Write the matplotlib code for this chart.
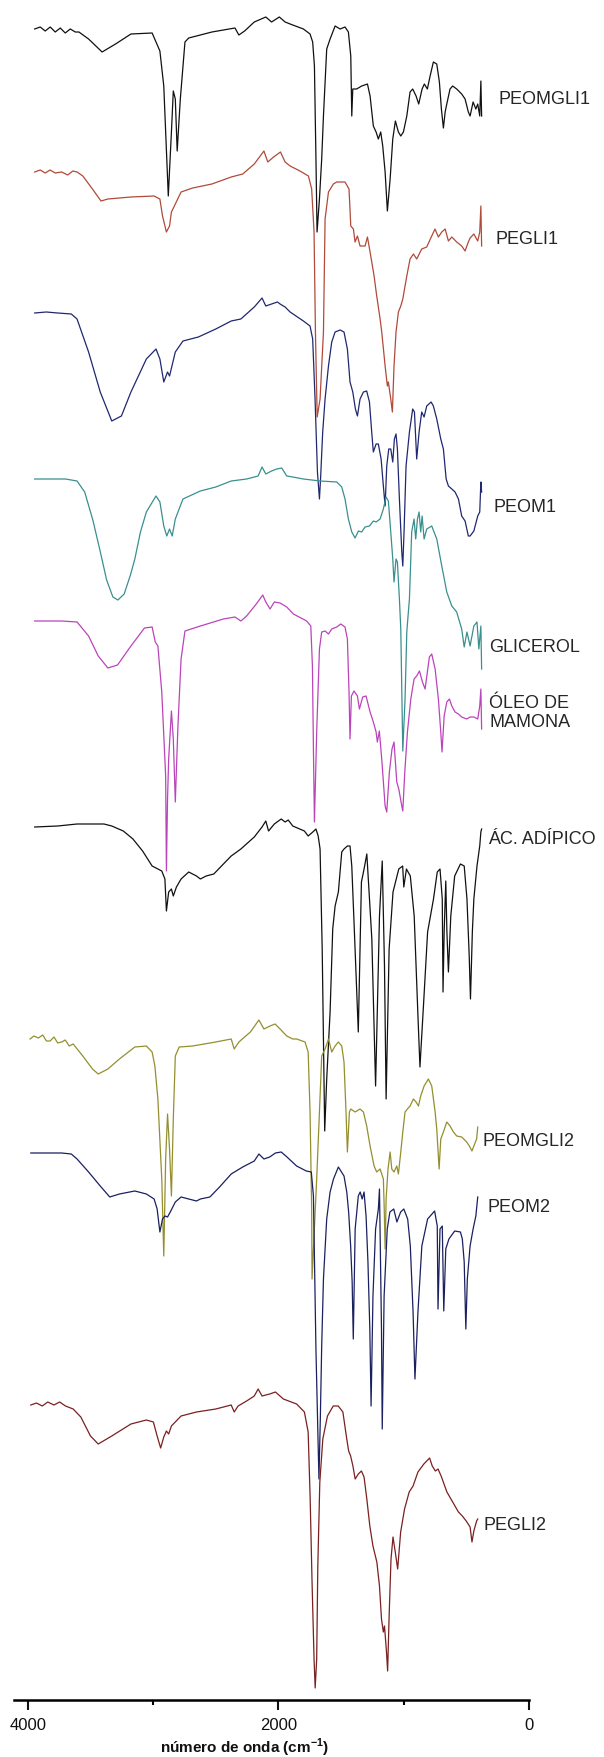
import numpy as np
import matplotlib
matplotlib.use("Agg")
import matplotlib.pyplot as plt
from matplotlib.ticker import FixedLocator

plt.rcParams['font.family'] = ['Liberation Sans', 'DejaVu Sans']
plt.rcParams['mathtext.fontset'] = 'custom'
plt.rcParams['mathtext.rm'] = 'Liberation Sans'
plt.rcParams['mathtext.bf'] = 'Liberation Sans:bold'

# FTIR spectra, stacked: wavenumber (cm-1) and offset transmittance (a.u.)
peomgli1_wn = [3944, 3900, 3860, 3820, 3780, 3740, 3700, 3660, 3620, 3591, 3514, 3406, 3299, 3176, 3007,
               2976, 2945, 2914, 2878, 2853, 2838, 2822, 2807, 2782, 2745, 2715, 2530, 2346, 2315, 2269,
               2192, 2100, 2054, 1992, 1946, 1906, 1800, 1747, 1726, 1712, 1699, 1691, 1672, 1654, 1640,
               1614, 1587, 1547, 1507, 1468, 1441, 1422, 1414, 1406, 1375, 1335, 1289, 1268, 1242, 1220,
               1202, 1183, 1167, 1148, 1130, 1108, 1087, 1066, 1042, 1023, 1002, 975, 949, 928, 901, 880,
               853, 835, 811, 789, 763, 736, 715, 699, 683, 669, 656, 630, 609, 577, 537, 510, 484, 470,
               446, 424, 409, 393, 384, 378]
peomgli1_t = [1671, 1673, 1669, 1673, 1668, 1672, 1667, 1671, 1668, 1668, 1661, 1648, 1656, 1666, 1667,
              1658, 1649, 1614, 1504, 1568, 1609, 1601, 1549, 1601, 1658, 1662, 1668, 1672, 1665, 1669,
              1678, 1683, 1678, 1683, 1678, 1676, 1671, 1666, 1658, 1634, 1534, 1468, 1501, 1541, 1584,
              1651, 1661, 1674, 1671, 1673, 1668, 1644, 1584, 1611, 1611, 1614, 1616, 1604, 1574, 1568,
              1561, 1568, 1554, 1528, 1489, 1521, 1561, 1579, 1568, 1564, 1568, 1584, 1608, 1611, 1604, 1596,
              1611, 1616, 1611, 1624, 1638, 1636, 1618, 1591, 1572, 1588, 1596, 1611, 1614, 1611, 1606, 1601,
              1588, 1584, 1598, 1591, 1596, 1584, 1619, 1584]

pegli1_wn = [3944, 3900, 3860, 3821, 3780, 3729, 3680, 3640, 3606, 3560, 3483, 3415, 3360, 3176, 2991,
             2945, 2924, 2893, 2868, 2853, 2822, 2776, 2684, 2530, 2376, 2284, 2192, 2115, 2084, 2038,
             1983, 1946, 1906, 1827, 1760, 1734, 1715, 1704, 1690, 1667, 1640, 1627, 1600, 1561, 1534,
             1468, 1436, 1422, 1401, 1388, 1369, 1348, 1308, 1289, 1268, 1236, 1215, 1188, 1175, 1148,
             1130, 1122, 1103, 1090, 1077, 1061, 1042, 1023, 1007, 975, 949, 922, 896, 856, 816, 776,
             750, 723, 696, 669, 643, 616, 577, 537, 510, 484, 470, 440, 409, 393, 384, 378]
pegli1_t = [1528, 1530, 1527, 1530, 1527, 1528, 1525, 1529, 1528, 1524, 1511, 1499, 1501, 1503, 1504,
            1501, 1484, 1468, 1474, 1488, 1496, 1508, 1512, 1516, 1523, 1526, 1536, 1549, 1538, 1543,
            1548, 1538, 1534, 1529, 1524, 1511, 1468, 1368, 1283, 1301, 1368, 1481, 1508, 1516, 1518,
            1518, 1511, 1474, 1471, 1458, 1464, 1454, 1454, 1463, 1448, 1424, 1404, 1381, 1368, 1334,
            1314, 1318, 1301, 1288, 1334, 1368, 1388, 1394, 1401, 1424, 1441, 1446, 1441, 1451, 1453, 1464,
            1471, 1463, 1468, 1471, 1459, 1463, 1458, 1454, 1449, 1458, 1462, 1466, 1459, 1468, 1494, 1454]

peom1_wn = [3944, 3852, 3760, 3652, 3606, 3514, 3421, 3329, 3252, 3176, 3053, 2976, 2945, 2914, 2884,
            2868, 2822, 2761, 2638, 2499, 2376, 2299, 2192, 2130, 2100, 2054, 2007, 1986, 1946, 1906,
            1800, 1747, 1726, 1707, 1688, 1672, 1662, 1646, 1627, 1600, 1574, 1547, 1507, 1476, 1449,
            1428, 1406, 1385, 1369, 1348, 1321, 1295, 1273, 1255, 1242, 1220, 1202, 1180, 1162, 1148,
            1135, 1119, 1103, 1087, 1074, 1061, 1050, 1034, 1015, 1007, 997, 981, 954, 928, 914, 896,
            877, 856, 837, 816, 781, 763, 736, 704, 683, 661, 643, 616, 590, 563, 537, 510, 484, 470,
            440, 409, 393, 384, 378]
peom1_t = [1387, 1388, 1387, 1386, 1381, 1348, 1308, 1279, 1284, 1308, 1341, 1351, 1341, 1318, 1328,
           1324, 1348, 1359, 1363, 1371, 1379, 1381, 1393, 1402, 1394, 1396, 1398, 1396, 1393, 1388,
           1379, 1374, 1361, 1301, 1228, 1201, 1224, 1268, 1301, 1334, 1358, 1368, 1370, 1368, 1351,
           1318, 1308, 1291, 1284, 1301, 1308, 1309, 1298, 1268, 1248, 1256, 1256, 1241, 1214, 1194,
           1234, 1251, 1251, 1238, 1261, 1266, 1251, 1201, 1148, 1134, 1168, 1234, 1268, 1291, 1288, 1241,
           1268, 1288, 1283, 1294, 1298, 1294, 1281, 1261, 1251, 1221, 1214, 1211, 1208, 1201, 1184, 1179,
           1164, 1164, 1169, 1184, 1188, 1218, 1208]

glicerol_wn = [3944, 3698, 3606, 3545, 3480, 3420, 3370, 3320, 3280, 3230, 3180, 3145, 3100, 3053, 2976,
               2945, 2914, 2890, 2868, 2847, 2822, 2761, 2622, 2499, 2376, 2253, 2161, 2130, 2100, 2054,
               2013, 1973, 1933, 1885, 1800, 1667, 1534, 1494, 1468, 1441, 1414, 1388, 1361, 1335, 1308,
               1273, 1242, 1220, 1188, 1162, 1141, 1122, 1103, 1087, 1077, 1061, 1050, 1034, 1023, 1007,
               989, 975, 967, 954, 936, 917, 904, 890, 877, 864, 853, 837, 816, 776, 736, 696, 656, 616,
               577, 537, 517, 495, 470, 440, 415, 400, 384, 378]
glicerol_t = [1221, 1221, 1219, 1208, 1180, 1148, 1120, 1103, 1100, 1106, 1125, 1141, 1168, 1188, 1204,
              1198, 1174, 1164, 1171, 1164, 1181, 1201, 1209, 1213, 1219, 1221, 1224, 1233, 1226, 1229,
              1231, 1232, 1224, 1223, 1221, 1219, 1218, 1213, 1201, 1181, 1168, 1162, 1169, 1168, 1173,
              1174, 1179, 1178, 1181, 1191, 1203, 1199, 1168, 1141, 1118, 1141, 1138, 1101, 1071, 949,
              1001, 1068, 1081, 1101, 1168, 1181, 1161, 1181, 1188, 1168, 1184, 1161, 1171, 1174, 1161, 1134,
              1108, 1094, 1088, 1071, 1053, 1068, 1054, 1074, 1078, 1051, 1074, 1031]

oleo_wn = [3944, 3729, 3606, 3514, 3437, 3360, 3283, 3176, 3068, 3007, 2982, 2961, 2930, 2899, 2893,
           2884, 2875, 2853, 2838, 2822, 2801, 2776, 2745, 2622, 2438, 2346, 2299, 2253, 2176, 2124,
           2100, 2066, 2032, 1986, 1946, 1933, 1880, 1774, 1741, 1728, 1720, 1712, 1694, 1672, 1654,
           1627, 1600, 1574, 1534, 1502, 1468, 1449, 1436, 1428, 1417, 1396, 1369, 1353, 1327, 1300,
           1268, 1242, 1220, 1210, 1194, 1175, 1148, 1135, 1114, 1093, 1077, 1055, 1039, 1015, 1007,
           991, 970, 943, 917, 896, 874, 850, 829, 811, 795, 776, 749, 723, 704, 694, 677, 656, 635,
           616, 590, 563, 537, 497, 470, 440, 409, 393, 384, 378]
oleo_t = [1079, 1079, 1078, 1064, 1044, 1032, 1035, 1054, 1072, 1073, 1058, 1054, 1008, 924, 829,
          901, 941, 989, 961, 898, 974, 1041, 1069, 1074, 1081, 1083, 1079, 1084, 1096, 1105,
          1098, 1091, 1098, 1097, 1094, 1093, 1086, 1079, 1074, 1034, 951, 878, 968, 1051, 1068,
          1069, 1066, 1071, 1073, 1076, 1073, 1061, 1008, 961, 1004, 1009, 1004, 991, 1003, 1004,
          988, 978, 968, 958, 969, 941, 894, 888, 928, 951, 958, 918, 911, 894, 889,
          928, 968, 1001, 1021, 1024, 1029, 1018, 1011, 1028, 1043, 1046, 1031, 1001, 968, 948, 984, 998, 1001,
          994, 988, 986, 983, 981, 983, 983, 981, 994, 1011, 971]

adipico_wn = [3944, 3760, 3606, 3391, 3329, 3237, 3160, 3083, 3007, 2930, 2905, 2893, 2875, 2853, 2838,
              2813, 2776, 2715, 2653, 2622, 2576, 2515, 2438, 2376, 2299, 2192, 2130, 2100, 2078, 2032,
              1977, 1946, 1921, 1885, 1792, 1762, 1725, 1700, 1682, 1667, 1650, 1630, 1614, 1587, 1566,
              1547, 1521, 1494, 1476, 1449, 1428, 1414, 1393, 1362, 1337, 1316, 1294, 1276, 1254, 1224,
              1193, 1171, 1153, 1140, 1116, 1085, 1039, 1008, 999, 978, 947, 916, 886, 870, 839, 809,
              762, 732, 710, 692, 686, 677, 664, 655, 643, 624, 593, 547, 517, 495, 477, 467, 452, 440,
              415, 393, 384, 378]
adipico_t = [873, 874, 876, 876, 874, 869, 861, 849, 834, 829, 821, 789, 808, 811, 804,
             813, 821, 828, 824, 821, 824, 826, 836, 844, 851, 863, 873, 879, 869, 876,
             881, 878, 880, 874, 869, 864, 868, 871, 864, 851, 751, 569, 621, 688, 771,
             794, 808, 848, 851, 854, 854, 834, 768, 668, 818, 831, 846, 808, 761, 614,
             784, 839, 734, 601, 751, 808, 831, 834, 813, 831, 824, 784, 684, 633, 701, 768,
             801, 828, 831, 801, 708, 768, 819, 768, 728, 784, 824, 836, 834, 801, 744, 701, 768, 801,
             834, 854, 868, 871]

peomgli2_wn = [3981, 3950, 3914, 3880, 3850, 3821, 3790, 3760, 3729, 3700, 3668, 3637, 3560, 3483, 3437,
               3360, 3268, 3145, 3053, 3007, 2985, 2961, 2930, 2914, 2899, 2884, 2868, 2853, 2838, 2822,
               2791, 2684, 2499, 2376, 2352, 2315, 2223, 2155, 2115, 2066, 2026, 1986, 1933, 1885, 1853,
               1787, 1762, 1747, 1734, 1731, 1720, 1694, 1672, 1654, 1627, 1600, 1574, 1547, 1521, 1494,
               1476, 1460, 1449, 1433, 1422, 1388, 1348, 1321, 1295, 1268, 1236, 1215, 1188, 1162, 1155,
               1148, 1140, 1125, 1108, 1095, 1077, 1055, 1042, 1023, 1007, 989, 970, 949, 922, 901, 882,
               864, 837, 803, 776, 749, 736, 728, 717, 704, 683, 656, 630, 603, 577, 537, 497, 476, 455,
               440, 418, 409]
peomgli2_t = [661, 664, 662, 665, 659, 659, 663, 657, 658, 660, 654, 656, 644, 631, 626,
              631, 641, 653, 654, 648, 634, 601, 521, 444, 541, 586, 551, 504, 581, 644,
              653, 654, 658, 661, 651, 658, 668, 680, 671, 674, 676, 671, 664, 661, 661,
              658, 648, 588, 491, 421, 451, 521, 588, 644, 651, 661, 648, 654, 658, 654,
              638, 588, 548, 588, 591, 588, 591, 588, 574, 554, 534, 528, 531, 521, 491,
              451, 501, 531, 548, 531, 528, 534, 526, 548, 568, 588, 591, 594, 601, 598, 594,
              604, 614, 621, 614, 588, 571, 554, 531, 561, 568, 578, 574, 568, 564, 563, 558, 554, 549,
              554, 561, 573]

peom2_wn = [3975, 3852, 3729, 3652, 3606, 3514, 3421, 3345, 3268, 3145, 3053, 2991, 2967, 2945, 2924,
            2905, 2884, 2862, 2822, 2776, 2715, 2653, 2622, 2546, 2469, 2376, 2284, 2192, 2155, 2115,
            2069, 2023, 1977, 1931, 1854, 1777, 1737, 1720, 1700, 1676, 1665, 1654, 1640, 1614, 1587,
            1560, 1521, 1476, 1454, 1439, 1423, 1411, 1402, 1387, 1362, 1347, 1331, 1316, 1300, 1285,
            1270, 1260, 1245, 1224, 1202, 1193, 1177, 1171, 1156, 1131, 1110, 1079, 1054, 1024, 999,
            968, 947, 925, 910, 886, 855, 809, 753, 732, 726, 710, 692, 680, 664, 639, 593, 547, 532,
            517, 504, 492, 470, 446, 424, 409]
peom2_t = [547, 547, 547, 546, 541, 528, 514, 503, 506, 509, 506, 501, 491, 468, 481,
           484, 483, 488, 498, 503, 501, 499, 501, 503, 513, 526, 533, 539, 546, 541,
           543, 547, 548, 543, 534, 529, 528, 504, 351, 221, 281, 354, 421, 481, 508,
           521, 533, 524, 508, 488, 454, 418, 361, 471, 504, 508, 501, 508, 484, 438,
           371, 294, 404, 471, 491, 511, 371, 271, 404, 471, 488, 491, 478, 488, 491,
           481, 454, 388, 321, 388, 454, 481, 489, 474, 391, 471, 474, 389, 451, 461, 469, 468, 461,
           438, 371, 421, 454, 471, 484, 503]

pegli2_wn = [3975, 3930, 3883, 3840, 3790, 3745, 3698, 3637, 3576, 3499, 3437, 3329, 3176, 3053, 2997,
             2967, 2939, 2914, 2893, 2875, 2853, 2776, 2653, 2499, 2376, 2352, 2321, 2253, 2192, 2161,
             2130, 2069, 2023, 1960, 1854, 1792, 1762, 1746, 1731, 1715, 1706, 1694, 1685, 1669, 1645,
             1608, 1562, 1522, 1485, 1454, 1439, 1423, 1405, 1387, 1362, 1337, 1316, 1294, 1270, 1245,
             1214, 1193, 1177, 1162, 1153, 1137, 1128, 1116, 1101, 1085, 1067, 1048, 1024, 993, 956,
             925, 886, 839, 793, 772, 747, 726, 701, 655, 609, 563, 532, 501, 470, 455, 440, 418, 409]
pegli2_t = [295, 297, 294, 298, 295, 298, 294, 291, 283, 264, 256, 264, 276, 280, 278,
            264, 252, 263, 269, 266, 274, 284, 288, 291, 295, 288, 294, 299, 304, 311,
            304, 306, 308, 301, 296, 288, 268, 201, 118, 41, 12, 41, 134, 218, 261,
            284, 294, 294, 288, 261, 249, 244, 234, 221, 226, 229, 223, 201, 174, 154,
            138, 114, 81, 68, 74, 48, 29, 84, 141, 163, 148, 131, 168, 191, 208,
            214, 228, 236, 242, 234, 229, 231, 224, 208, 198, 188, 184, 179, 173, 158, 169, 179, 181]

sample_names = ['PEOMGLI1', 'PEGLI1', 'PEOM1', 'GLICEROL', 'ÓLEO DE\nMAMONA', 'ÁC. ADÍPICO',
                'PEOMGLI2', 'PEOM2', 'PEGLI2']
spectra_wn = [peomgli1_wn, pegli1_wn, peom1_wn, glicerol_wn, oleo_wn, adipico_wn,
              peomgli2_wn, peom2_wn, pegli2_wn]
spectra_t = [peomgli1_t, pegli1_t, peom1_t, glicerol_t, oleo_t, adipico_t,
             peomgli2_t, peom2_t, pegli2_t]
line_colors = ['#111111', '#b04a3a', '#1f2870', '#3a8f8f', '#bb44bb', '#111111',
               '#948f2e', '#1a2060', '#7a2020']
# label anchor: wavenumber and offset transmittance
label_wn = [240, 271, 287, 318, 318, 326, 374, 334, 362]
label_t = [1601, 1462, 1194, 1054, 988, 861, 559, 493, 175]

x_ticks = [4000, 2000, 0]
x_minor = [3000, 1000]

W, H = 604, 1758
fig = plt.figure(figsize=(W / 100, H / 100), dpi=100)
ax = fig.add_axes([13.5 / W, 57 / H, (529 - 13.5) / W, 1701 / H])

for wn, t, c in zip(spectra_wn, spectra_t, line_colors):
    ax.plot(wn, t, color=c, lw=0.9)

for name, x, y in zip(sample_names, label_wn, label_t):
    ax.text(x, y, name, ha='left', va='center', fontsize=13, color='#262626',
            linespacing=1.2, clip_on=False)

ax.set_xlim(4113, 0)
ax.set_ylim(0, 1701)
for side in ['left', 'right', 'top']:
    ax.spines[side].set_visible(False)
ax.spines['bottom'].set_linewidth(1.8)
ax.set_yticks([])
ax.xaxis.set_major_locator(FixedLocator(x_ticks))
ax.xaxis.set_minor_locator(FixedLocator(x_minor))
ax.tick_params(axis='x', which='major', direction='out', length=7.2, width=1.5,
               labelsize=12, pad=5, colors='#111111')
ax.tick_params(axis='x', which='minor', direction='out', length=3.6, width=1.5)

fig.text(244.6 / W, 1 - 1748 / H, r'número de onda (cm$^{\mathbf{-1}}$)', ha='center', va='center',
         fontsize=11, fontweight='bold', color='#111111')

fig.savefig('out.png', dpi=100)
